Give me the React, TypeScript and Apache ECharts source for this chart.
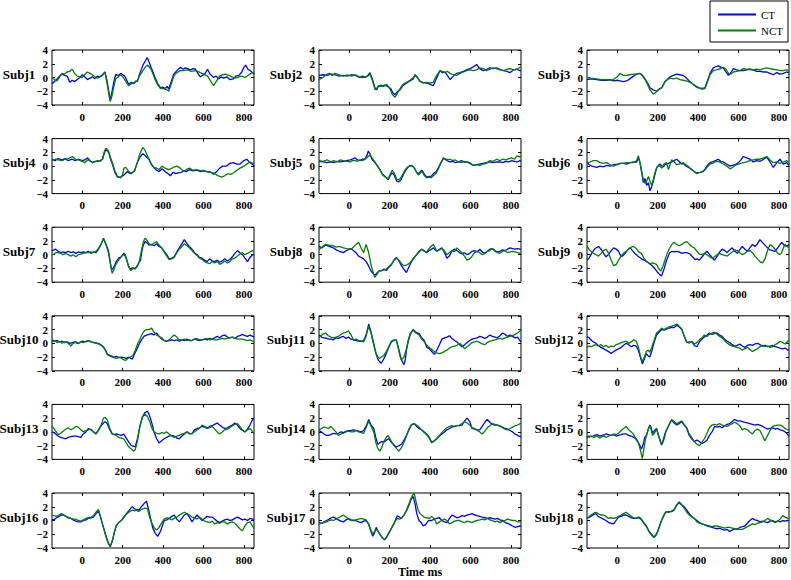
import React, { useEffect, useRef } from "react";
import * as echarts from "echarts";

const subjects = ["Subj1","Subj2","Subj3","Subj4","Subj5","Subj6","Subj7","Subj8","Subj9","Subj10","Subj11","Subj12","Subj13","Subj14","Subj15","Subj16","Subj17","Subj18"];
const timeTicks = [0, 200, 400, 600, 800];
const timeRange = [-150, 850];
const ampRange = [-4, 4];
const xTitle = "Time ms";

const ct1 = [[-150,-0.9],[-135,-0.5],[-125,-0.2],[-110,0.3],[-100,0.5],[-88,0.3],[-75,0.2],[-62,-0.7],[-50,-0.4],[-38,-0.6],[-25,-0.3],[-12,0.0],[0,0.4],[12,0.1],[25,-0.3],[38,-0.1],[50,0.1],[62,-0.2],[75,0.2],[88,0.1],[100,0.4],[112,0.8],[122,-0.4],[130,-1.8],[138,-3.3],[146,-2.2],[155,-0.8],[165,0.4],[178,0.3],[190,0.6],[200,0.4],[210,0.2],[220,-0.4],[230,-1.0],[243,-0.7],[256,-0.9],[265,-0.5],[272,-0.6],[285,0.6],[300,1.8],[312,2.4],[321,2.9],[330,2.3],[340,1.5],[350,0.8],[360,0],[372,-0.8],[387,-1.5],[398,-1.4],[410,-1.6],[420,-1.3],[428,-1.7],[440,-0.6],[453,0.5],[468,1.0],[486,1.5],[500,1.2],[510,1.4],[520,1.3],[535,1.1],[548,1.3],[560,1.2],[572,0.6],[584,0.1],[595,0.3],[608,0.6],[620,1.2],[632,0.5],[650,0.0],[662,0.2],[675,-0.2],[688,0.1],[700,-0.1],[715,0.1],[730,-0.3],[748,-0.2],[760,0.2],[775,0.3],[790,0.8],[800,1.5],[809,1.8],[820,1.2],[835,0.9],[850,0.5]];
const nct1 = [[-150,0],[-138,-0.3],[-125,-0.5],[-112,0.1],[-100,0.6],[-88,0.5],[-75,0.8],[-62,0.9],[-50,1.2],[-38,0.6],[-25,0.2],[-12,0.1],[0,0],[12,0.4],[25,0.8],[38,0.6],[50,0.4],[62,0.1],[75,-0.1],[88,0.1],[100,0.3],[112,0.8],[122,-0.8],[130,-2.2],[138,-3.5],[146,-2.8],[155,-1.5],[165,-0.2],[178,0.1],[190,0.4],[200,0.1],[210,-0.3],[220,-0.8],[230,-1.2],[243,-0.9],[256,-0.8],[265,-0.6],[272,-0.5],[285,0.3],[300,1.0],[312,1.5],[321,1.8],[330,1.6],[340,1.2],[350,0.5],[360,-0.3],[372,-1.0],[387,-1.6],[398,-1.6],[410,-1.7],[420,-1.8],[428,-2.0],[440,-1.0],[453,0.2],[468,0.7],[486,1.0],[500,1.0],[520,1.1],[540,0.9],[560,1.0],[572,0.9],[584,0.7],[600,0.5],[620,0.2],[635,-0.5],[650,-1.2],[665,-0.5],[680,0.2],[695,0.4],[710,0.5],[725,0.3],[740,0.1],[748,0],[760,-0.1],[775,0.1],[790,0.2],[805,0.0],[820,0.3],[835,0.6],[850,0.8]];

const ct2 = [[-150,0.3],[-130,0.4],[-110,0.3],[-90,0.5],[-70,0.4],[-50,0.2],[-30,0.3],[-10,0.2],[10,0.4],[30,0.3],[50,0.0],[65,0.2],[80,0.0],[92,0.3],[102,0.7],[115,-0.3],[128,-1.6],[135,-1.8],[145,-1.2],[160,-1.3],[175,-1.1],[190,-1.3],[205,-1.6],[215,-2.2],[226,-2.5],[240,-2.0],[251,-1.8],[265,-1.2],[284,-0.8],[300,-0.5],[317,-0.2],[325,0.4],[338,0.0],[350,-0.6],[365,-0.7],[383,-0.8],[400,-1.0],[416,-1.2],[430,-0.2],[449,1.0],[460,0.7],[474,0.8],[485,0.3],[499,-0.3],[515,0.2],[531,0.6],[548,0.7],[565,0.9],[580,1.1],[597,1.3],[612,1.5],[630,1.9],[645,1.3],[663,1.0],[680,1.2],[696,1.4],[712,1.3],[729,1.4],[745,1.2],[763,1.0],[780,0.9],[795,0.7],[812,1.1],[829,1.2],[845,1.0],[850,1.0]];
const nct2 = [[-150,-0.3],[-130,0.0],[-110,0.5],[-100,0.6],[-85,0.3],[-70,0.6],[-50,0.4],[-30,0.2],[-10,0.4],[10,0.2],[30,0.4],[50,0.1],[65,0.0],[80,0.1],[92,0.2],[102,0.5],[115,-0.5],[128,-1.8],[140,-1.4],[155,-1.1],[170,-1.3],[185,-1.0],[200,-1.6],[212,-2.4],[226,-2.9],[240,-2.2],[251,-1.6],[265,-1.0],[284,-0.7],[300,-0.4],[317,0.0],[325,0.4],[338,-0.1],[350,-0.5],[365,-0.8],[383,-0.7],[400,-0.8],[416,-0.7],[430,0.2],[449,1.0],[460,0.9],[474,0.7],[485,0.9],[499,0.6],[515,0.4],[531,0.3],[548,0.6],[565,0.8],[580,1.0],[597,1.1],[612,1.0],[630,1.1],[645,1.4],[663,1.3],[680,1.0],[696,1.2],[712,1.4],[729,1.3],[745,1.1],[763,1.0],[780,1.2],[795,1.3],[812,1.1],[829,1.2],[845,1.5],[850,1.5]];

const ct3 = [[-150,-0.3],[-130,-0.2],[-102,-0.3],[-80,-0.4],[-52,-0.4],[-35,-0.3],[-20,-0.5],[0,-0.4],[13,-0.5],[30,-0.6],[46,-0.5],[62,-0.2],[80,0.2],[96,0.5],[112,0.6],[125,0.3],[137,-0.2],[150,-0.8],[162,-1.5],[178,-1.8],[195,-2.0],[210,-1.6],[220,-1.5],[236,-0.6],[250,-0.2],[261,0.1],[277,0.3],[294,0.5],[310,0.4],[327,0.3],[343,-0.1],[360,-0.6],[376,-1.0],[393,-1.4],[405,-1.5],[418,-1.6],[434,-1.5],[446,-0.5],[459,0.6],[475,1.4],[490,1.6],[500,1.7],[512,1.5],[525,1.4],[538,0.8],[550,0.3],[562,0.7],[575,1.3],[591,1.1],[607,1.0],[624,1.0],[640,1.1],[657,1.2],[673,1.1],[690,0.9],[707,0.9],[723,0.8],[740,0.8],[756,0.6],[772,0.4],[790,0.7],[805,0.5],[822,0.6],[838,0.8],[850,0.7]];
const nct3 = [[-150,0.0],[-130,-0.1],[-102,-0.2],[-80,-0.3],[-52,-0.3],[-35,-0.4],[-20,-0.3],[0,0.1],[13,0.6],[30,0.3],[46,0.3],[62,0.4],[80,0.5],[96,0.5],[112,0.6],[125,0.2],[137,-0.3],[150,-1.0],[162,-1.8],[178,-2.4],[190,-2.2],[200,-1.9],[220,-1.5],[236,-0.6],[250,-0.3],[261,-0.1],[277,-0.2],[294,-0.1],[310,-0.3],[327,-0.4],[343,-0.5],[360,-0.7],[376,-1.0],[393,-1.3],[405,-1.5],[418,-1.7],[434,-1.6],[446,-0.7],[459,0.4],[475,1.0],[490,1.1],[500,1.2],[512,1.3],[525,1.5],[538,1.2],[550,0.6],[562,0.5],[575,0.8],[591,0.9],[607,1.0],[624,1.3],[640,1.2],[657,1.2],[673,1.1],[690,1.2],[707,1.1],[723,1.3],[740,1.4],[756,1.3],[772,1.2],[790,1.1],[805,1.0],[822,1.0],[838,1.1],[850,1.0]];

const ct4 = [[-150,1.0],[-135,0.8],[-120,1.1],[-100,0.9],[-85,1.1],[-70,0.8],[-50,1.0],[-35,0.8],[-20,1.0],[0,0.8],[12,0.9],[26,1.2],[40,0.7],[50,0.5],[62,0.7],[75,0.7],[88,0.8],[100,1.0],[108,1.8],[116,2.4],[125,2.2],[132,1.9],[140,1.0],[149,0.3],[160,-0.8],[174,-1.6],[190,-1.6],[200,-1.4],[210,-1.2],[222,-0.8],[232,-1.0],[240,-1.1],[250,-0.9],[260,-0.6],[272,0.5],[285,1.3],[300,1.8],[312,1.5],[330,1.0],[342,0.3],[354,-0.2],[368,-0.6],[380,-0.8],[395,-0.4],[410,-0.8],[425,-1.1],[436,-1.4],[450,-0.9],[462,-1.1],[475,-1.0],[490,-0.9],[502,-0.7],[515,-0.8],[530,-0.5],[548,-0.7],[568,-0.6],[585,-0.8],[600,-0.7],[615,-0.8],[630,-0.8],[642,-1.0],[650,-1.2],[665,-0.8],[680,-0.3],[695,0.0],[715,0.0],[730,0.4],[748,0.5],[765,0.3],[781,0.3],[800,0.8],[814,1.0],[830,0.5],[845,0.2],[850,0.0]];
const nct4 = [[-150,0.8],[-135,1.0],[-120,0.9],[-100,0.8],[-85,1.0],[-70,1.1],[-55,1.3],[-48,1.4],[-35,1.0],[-20,0.9],[0,0.7],[12,0.5],[26,0.9],[40,0.8],[50,0.5],[62,0.6],[75,0.8],[88,0.7],[100,1.0],[108,2.0],[116,2.6],[125,2.4],[132,2.0],[140,1.2],[149,0.5],[160,-0.6],[174,-1.5],[190,-1.7],[200,-1.2],[206,-0.3],[215,-0.2],[225,-0.6],[235,-0.9],[245,-1.0],[258,-0.7],[272,0.5],[285,1.8],[296,2.5],[302,2.7],[312,2.2],[330,1.0],[342,0.2],[354,-0.2],[368,-0.3],[380,-0.5],[395,0.0],[410,-0.3],[425,-0.5],[436,-0.4],[450,-0.2],[469,0.0],[485,-0.3],[502,-0.8],[515,-0.5],[530,-0.3],[548,-0.6],[568,-0.5],[585,-0.7],[600,-0.6],[615,-0.8],[630,-0.9],[650,-1.0],[665,-1.3],[680,-1.5],[691,-1.6],[705,-1.4],[720,-1.1],[735,-1.2],[748,-1.0],[765,-0.6],[781,-0.3],[800,0.0],[815,0.3],[830,0.6],[845,0.4],[850,0.3]];

const ct5 = [[-150,0.7],[-130,0.6],[-110,0.5],[-90,0.6],[-79,0.5],[-60,0.7],[-46,0.6],[-30,0.7],[-13,0.8],[5,0.9],[15,1.0],[28,1.2],[40,0.9],[53,0.8],[65,1.0],[78,1.0],[88,1.6],[94,2.2],[102,1.8],[112,1.0],[127,0.5],[140,0.0],[152,-0.5],[165,-1.2],[177,-1.5],[193,-2.0],[202,-1.4],[212,-1.0],[222,-1.3],[235,-2.2],[245,-2.3],[255,-2.0],[268,-1.2],[280,-0.6],[290,-0.2],[300,0.1],[312,0.0],[322,-0.3],[333,-0.9],[342,-1.1],[352,-0.8],[360,-0.6],[372,-1.2],[383,-1.6],[395,-1.5],[405,-1.5],[420,-1.0],[430,-0.8],[441,-0.2],[455,0.6],[466,1.2],[480,0.9],[490,0.7],[499,0.6],[512,0.7],[525,0.5],[540,0.6],[555,0.8],[570,0.6],[588,0.6],[600,0.4],[614,0.1],[628,0.2],[645,0.3],[662,0.4],[680,0.5],[696,0.6],[712,0.5],[730,0.6],[745,0.6],[760,0.5],[775,0.7],[790,0.6],[804,0.8],[818,0.7],[830,0.6],[845,0.8],[850,0.7]];
const nct5 = [[-150,0.8],[-130,0.7],[-110,0.9],[-90,0.6],[-79,0.8],[-60,0.6],[-46,0.9],[-30,0.8],[-13,0.7],[5,0.6],[15,0.8],[28,0.8],[40,0.7],[53,0.9],[65,0.8],[78,1.0],[90,1.3],[102,1.6],[112,1.2],[127,0.6],[140,0.0],[152,-0.6],[165,-1.3],[177,-1.6],[193,-1.8],[202,-1.2],[212,-0.6],[222,-1.0],[235,-1.9],[245,-2.0],[255,-1.7],[268,-1.0],[280,-0.4],[290,-0.1],[300,0.0],[312,0.1],[322,-0.3],[333,-0.9],[342,-1.3],[352,-1.0],[360,-0.8],[372,-1.4],[383,-1.7],[395,-1.6],[405,-1.7],[420,-1.3],[430,-1.0],[441,-0.4],[455,0.5],[466,1.1],[480,1.0],[490,0.9],[499,1.0],[512,0.8],[525,0.9],[540,0.6],[555,0.5],[570,0.7],[588,0.5],[600,0.3],[614,0.1],[628,0.2],[645,0.1],[662,0.3],[680,0.4],[696,0.8],[712,0.7],[730,1.0],[745,0.8],[760,1.0],[775,0.9],[790,1.1],[804,1.2],[818,1.0],[830,1.5],[845,1.3],[850,1.5]];

const ct6 = [[-150,0.6],[-140,0.2],[-125,0.0],[-102,-0.2],[-85,0.0],[-70,-0.1],[-52,0.1],[-35,0.0],[-20,0.2],[0,0.3],[15,0.4],[30,0.4],[46,0.3],[63,0.5],[80,0.6],[96,0.6],[104,1.2],[112,0.5],[121,-1.0],[129,-2.4],[137,-1.8],[145,-2.8],[154,-2.4],[162,-3.6],[170,-3.0],[178,-2.2],[188,-1.0],[195,-0.3],[203,0.1],[211,0.3],[220,0.0],[228,-0.1],[236,0.2],[244,0.3],[253,0.4],[261,0.5],[269,0.6],[280,0.8],[294,1.0],[305,0.7],[319,0.3],[327,0.4],[340,0.0],[353,-0.2],[368,-0.5],[380,-0.8],[393,-1.0],[410,-0.9],[426,-0.8],[435,-0.4],[443,0.0],[459,0.5],[470,0.6],[485,0.8],[500,1.0],[512,0.7],[525,0.6],[541,0.3],[558,0.0],[570,0.1],[583,0.2],[600,0.5],[612,0.9],[624,1.4],[640,1.2],[657,1.0],[673,0.6],[690,0.8],[707,0.7],[724,1.0],[740,1.3],[756,0.6],[772,-0.2],[790,0.5],[805,1.0],[822,0.3],[838,0.5],[850,0.1]];
const nct6 = [[-150,0.4],[-135,0.6],[-120,0.8],[-102,0.8],[-85,0.5],[-70,0.4],[-52,0.5],[-35,0.2],[-20,0.0],[0,0.2],[15,0.4],[30,0.4],[46,0.5],[63,0.5],[80,0.5],[96,0.8],[104,1.5],[112,0.6],[121,-0.8],[129,-2.0],[137,-2.5],[145,-2.2],[154,-1.5],[162,-2.2],[170,-2.8],[178,-2.0],[188,-0.8],[195,-0.2],[203,0.0],[211,0.0],[220,-0.3],[228,0.2],[236,0.4],[244,0.5],[253,-0.5],[261,0.2],[269,0.9],[280,0.7],[294,0.2],[305,0.3],[319,0.4],[327,0.5],[340,0.2],[353,-0.1],[368,-0.5],[380,-0.8],[393,-1.1],[410,-0.9],[426,-0.7],[435,-0.5],[443,-0.2],[459,0.3],[470,0.4],[485,0.6],[500,0.7],[512,0.5],[525,0.3],[541,0.0],[558,-0.4],[570,-0.2],[583,0.1],[600,0.3],[612,0.4],[624,0.5],[640,0.6],[657,0.8],[673,0.9],[690,1.0],[707,1.0],[724,1.2],[740,1.4],[756,0.9],[772,0.5],[790,0.6],[805,0.4],[822,0.6],[838,0.8],[850,0.5]];

const ct7 = [[-150,0.6],[-140,0.7],[-132,0.8],[-120,0.5],[-107,0.3],[-95,0.4],[-82,0.3],[-70,0.5],[-57,0.3],[-45,0.4],[-32,0.2],[-20,0.4],[-7,0.3],[5,0.4],[18,0.3],[30,0.5],[43,0.2],[55,0.4],[68,0.3],[80,0.8],[93,1.5],[105,2.4],[118,1.5],[130,0.5],[138,-1.0],[145,-2.2],[152,-2.0],[160,-1.6],[168,-1.0],[180,-0.5],[193,-0.3],[205,0.2],[212,0.0],[218,-0.5],[228,-1.6],[238,-2.1],[248,-1.9],[258,-2.0],[268,-1.8],[278,-1.3],[288,-0.8],[295,0.5],[300,1.2],[310,1.9],[318,1.8],[330,1.4],[343,1.5],[355,1.3],[368,1.6],[380,1.2],[393,1.0],[405,0.5],[418,0.0],[430,-0.6],[443,-0.5],[455,-0.3],[468,0.4],[480,1.0],[493,1.6],[505,2.2],[518,1.6],[530,1.2],[543,0.8],[555,0.3],[568,0.0],[580,-0.4],[593,-0.5],[605,-0.8],[618,-1.0],[630,-0.6],[643,-0.9],[655,-1.0],[668,-0.8],[680,-1.1],[693,-0.9],[705,-0.6],[718,-0.9],[730,-0.7],[743,-0.3],[755,0.2],[768,0.6],[780,0.3],[793,0.0],[805,-0.5],[818,-1.0],[830,-0.4],[843,0.0],[850,0.0]];
const nct7 = [[-150,0.0],[-140,0.1],[-132,0.3],[-120,0.3],[-107,0.2],[-95,0.0],[-82,0.2],[-70,0.0],[-57,-0.2],[-45,0.0],[-32,-0.3],[-20,0.0],[-7,0.1],[5,0.2],[18,0.3],[30,0.3],[43,0.4],[55,0.3],[68,0.5],[80,0.9],[93,1.6],[105,2.3],[118,1.4],[130,0.2],[138,-1.2],[148,-2.7],[155,-2.3],[163,-1.6],[175,-1.0],[188,-0.5],[198,-0.1],[205,0.0],[212,-0.2],[220,-0.8],[230,-1.8],[240,-2.3],[252,-2.0],[262,-2.1],[272,-1.7],[282,-1.0],[292,0.5],[302,1.8],[310,2.4],[318,2.2],[330,1.6],[343,1.4],[355,1.7],[368,1.9],[380,1.4],[393,1.0],[405,0.4],[418,-0.2],[430,-0.7],[443,-0.6],[455,-0.4],[468,0.3],[480,0.8],[493,1.2],[505,1.6],[518,1.3],[530,1.0],[543,0.6],[555,0.2],[568,-0.1],[580,-0.5],[593,-0.7],[605,-1.0],[618,-1.2],[630,-1.3],[643,-1.0],[655,-1.2],[668,-1.0],[680,-1.4],[693,-1.2],[705,-0.9],[718,-1.2],[730,-1.0],[743,-0.6],[755,-0.5],[768,-0.2],[780,0.1],[793,0.3],[805,0.0],[818,0.2],[830,0.4],[843,0.6],[850,0.5]];

const ct8 = [[-150,1.2],[-135,1.0],[-117,1.4],[-100,1.2],[-79,1.0],[-65,0.7],[-50,0.5],[-29,0.3],[-15,0.6],[0,0.8],[8,0.9],[20,0.6],[33,0.3],[46,-0.2],[58,-0.4],[71,-0.6],[83,-1.0],[95,-1.6],[108,-2.4],[120,-2.8],[126,-3.0],[136,-2.7],[146,-2.4],[160,-2.3],[172,-2.1],[183,-2.3],[196,-1.8],[208,-1.5],[220,-0.8],[233,-0.4],[246,-0.9],[258,-1.6],[270,-2.1],[283,-2.6],[295,-1.8],[308,-1.0],[320,-0.5],[333,0.0],[345,0.4],[358,0.8],[370,0.6],[383,0.3],[395,0.6],[408,0.8],[416,1.0],[425,0.7],[433,0.5],[446,0.8],[458,1.0],[470,0.4],[483,-0.5],[495,-0.2],[508,0.5],[520,0.8],[533,0.6],[546,0.3],[558,0.1],[570,0.3],[583,0.0],[596,0.2],[608,0.5],[620,0.6],[633,0.4],[646,0.8],[658,0.4],[671,0.2],[683,0.5],[696,0.8],[708,0.9],[721,0.6],[733,0.4],[746,0.5],[758,0.7],[771,0.6],[783,0.8],[796,1.0],[808,0.9],[821,0.8],[833,0.9],[845,0.8],[850,0.8]];
const nct8 = [[-150,0.8],[-135,1.1],[-117,1.5],[-100,1.4],[-79,1.3],[-65,1.1],[-50,1.2],[-29,1.0],[-15,0.9],[0,0.8],[8,0.8],[20,1.1],[33,1.5],[46,1.8],[58,1.0],[71,0.3],[83,1.5],[95,0.4],[108,-1.5],[118,-2.6],[126,-3.3],[136,-2.9],[146,-2.4],[160,-2.3],[172,-2.2],[183,-2.1],[196,-1.7],[208,-1.4],[220,-0.9],[233,-0.5],[246,-0.8],[258,-1.3],[270,-1.6],[283,-1.5],[295,-1.3],[308,-0.9],[320,-0.4],[333,0.0],[345,0.5],[358,0.8],[370,0.5],[383,0.4],[395,0.9],[408,1.3],[416,1.5],[425,1.0],[433,0.5],[446,0.7],[458,0.9],[470,0.6],[483,0.0],[495,0.3],[508,0.6],[520,0.4],[533,1.0],[546,0.6],[558,0.3],[570,-0.2],[583,-0.8],[596,-0.6],[608,-0.2],[620,0.3],[633,0.5],[646,0.3],[658,0.0],[671,0.2],[683,0.5],[696,0.6],[708,0.9],[721,0.5],[733,0.3],[746,0.2],[758,0.5],[771,0.6],[783,0.3],[796,0.4],[808,0.5],[821,0.4],[833,0.3],[845,0.2],[850,0.2]];

const ct9 = [[-150,-0.8],[-140,-0.5],[-125,0.3],[-110,0.9],[-93,1.2],[-80,0.8],[-68,0.2],[-56,-0.3],[-45,0.0],[-30,0.6],[-18,1.0],[-5,0.8],[6,0.5],[19,-0.3],[30,-0.1],[44,0.4],[55,0.8],[64,1.0],[75,0.6],[90,0.1],[106,-0.3],[120,-0.6],[140,-0.9],[155,-1.2],[169,-1.5],[185,-2.0],[200,-2.6],[210,-2.9],[219,-3.1],[230,-2.2],[244,-0.8],[258,0.2],[270,0.5],[281,0.4],[294,0.5],[306,0.4],[320,0.2],[333,0.3],[344,0.3],[360,0.1],[372,-0.3],[385,-0.7],[395,-0.6],[406,-0.8],[420,-0.3],[433,0.2],[444,0.5],[457,0.0],[469,-0.4],[481,-0.8],[495,-0.2],[507,0.4],[519,0.8],[532,0.6],[544,0.3],[556,0.7],[569,1.0],[582,0.5],[594,0.2],[606,0.7],[619,1.2],[632,0.8],[644,0.5],[656,1.0],[669,1.5],[682,1.2],[694,1.6],[706,2.2],[718,1.8],[731,1.4],[744,1.0],[756,0.7],[769,0.6],[781,0.5],[794,1.0],[806,1.5],[814,1.8],[825,1.4],[838,1.2],[850,1.5]];
const nct9 = [[-150,1.2],[-140,0.8],[-131,0.5],[-118,0.2],[-105,0.0],[-93,-0.2],[-80,0.2],[-68,0.6],[-56,0.8],[-45,0.3],[-30,-0.8],[-18,-1.6],[-5,-1.4],[6,-0.8],[19,-0.2],[30,0.2],[44,0.5],[55,0.8],[68,1.1],[81,1.2],[94,0.9],[106,0.4],[119,0.2],[132,-0.5],[145,-1.0],[160,-1.3],[175,-1.2],[194,-1.4],[205,-2.0],[215,-2.4],[228,-1.5],[244,0.0],[258,0.9],[270,1.5],[281,1.8],[294,1.5],[306,1.3],[320,1.5],[333,1.8],[344,1.9],[357,1.5],[369,1.2],[381,1.0],[394,0.5],[406,0.1],[419,0.0],[432,0.2],[444,0.0],[457,-0.3],[469,-0.5],[481,-0.3],[494,0.0],[507,0.2],[519,0.0],[532,-0.1],[544,-0.2],[556,0.1],[569,0.4],[582,0.7],[594,0.6],[606,0.3],[619,0.0],[632,0.2],[644,0.5],[656,0.6],[669,0.3],[682,-0.2],[694,-0.6],[706,-1.0],[719,-1.2],[731,-0.6],[744,0.6],[756,1.5],[769,1.2],[781,0.8],[794,0.2],[806,0.0],[814,0.3],[822,1.0],[831,1.5],[840,1.2],[850,1.0]];

const ct10 = [[-150,0.5],[-138,0.3],[-125,0.4],[-112,0.2],[-100,0.3],[-88,0.1],[-75,0.2],[-62,0.0],[-50,0.1],[-38,0.2],[-25,0.0],[-12,0.1],[0,0.3],[15,0.2],[30,0.4],[45,0.2],[60,0.1],[80,0.0],[95,-0.3],[105,-0.6],[115,-1.0],[125,-1.6],[140,-1.8],[155,-2.0],[170,-1.9],[182,-2.1],[193,-2.0],[205,-2.1],[218,-2.2],[230,-2.0],[240,-2.2],[248,-2.3],[258,-1.6],[268,-1.0],[280,-0.2],[293,0.5],[305,1.0],[318,1.2],[330,1.3],[343,1.4],[355,1.2],[368,1.5],[380,1.0],[393,0.6],[405,0.4],[418,0.3],[430,0.4],[443,0.5],[455,0.4],[468,0.5],[480,0.3],[493,0.5],[505,0.4],[518,0.6],[530,0.4],[543,0.4],[555,0.6],[568,0.5],[580,0.4],[593,0.5],[605,0.6],[618,0.5],[630,0.7],[643,0.6],[655,0.8],[668,1.0],[680,0.8],[693,1.1],[705,1.2],[718,0.9],[730,0.8],[743,0.9],[755,0.7],[768,1.0],[780,1.1],[793,1.3],[805,1.1],[818,1.0],[830,1.2],[843,1.0],[850,0.9]];
const nct10 = [[-150,0.2],[-138,0.4],[-125,0.1],[-112,0.3],[-100,0.0],[-88,0.2],[-75,0.1],[-62,-0.2],[-57,-0.4],[-45,0.0],[-32,0.2],[-20,0.0],[-7,0.2],[5,0.1],[18,0.3],[30,0.4],[43,0.2],[55,0.1],[68,0.0],[80,-0.1],[95,-0.3],[105,-0.5],[115,-1.1],[125,-1.7],[140,-1.9],[155,-2.1],[170,-2.2],[185,-2.0],[200,-2.3],[213,-2.5],[225,-2.2],[238,-2.0],[250,-1.8],[262,-1.0],[275,0.0],[288,0.8],[300,1.5],[310,1.9],[318,2.0],[330,2.0],[343,2.2],[355,1.6],[368,1.2],[380,1.0],[393,0.8],[405,0.4],[418,0.3],[430,0.5],[443,0.9],[455,1.2],[468,0.9],[480,0.5],[493,0.5],[505,0.6],[518,0.4],[530,0.5],[543,0.4],[555,0.6],[568,0.7],[580,0.5],[593,0.5],[605,0.6],[618,0.7],[630,0.5],[643,0.6],[655,0.5],[668,0.5],[680,0.6],[693,0.7],[705,0.6],[718,0.7],[730,0.8],[743,0.9],[755,0.7],[768,0.6],[780,0.6],[793,0.6],[805,0.5],[818,0.4],[830,0.5],[843,0.3],[850,0.3]];

const ct11 = [[-150,1.2],[-138,0.9],[-125,0.8],[-112,0.7],[-100,0.6],[-90,0.6],[-79,0.5],[-66,0.8],[-54,0.7],[-41,0.9],[-29,1.0],[-16,0.7],[-4,0.9],[9,0.6],[21,0.5],[34,0.4],[46,0.3],[58,0.3],[71,0.4],[83,1.2],[96,2.8],[108,1.6],[121,0.0],[131,-1.4],[141,-2.3],[150,-2.7],[158,-2.9],[170,-2.3],[183,-1.5],[195,-0.6],[208,0.2],[220,0.4],[233,0.5],[240,-0.3],[246,-1.0],[258,-2.4],[265,-2.8],[271,-3.1],[277,-2.4],[283,-1.0],[292,0.3],[301,1.2],[309,1.7],[316,2.0],[330,1.6],[346,1.4],[358,0.8],[371,0.4],[384,-0.6],[396,-0.8],[408,-1.2],[421,-1.6],[433,-1.0],[446,-0.2],[458,0.6],[471,0.8],[483,0.9],[496,1.1],[508,0.7],[521,0.4],[533,0.2],[546,-0.2],[558,-0.5],[571,-0.2],[583,0.1],[596,0.4],[608,0.6],[621,0.7],[633,0.8],[646,1.0],[658,0.9],[671,0.7],[683,0.9],[696,1.2],[708,1.0],[721,0.9],[733,0.8],[746,1.1],[758,1.5],[771,1.3],[783,1.0],[796,1.2],[808,1.0],[821,0.8],[833,0.9],[846,0.3],[850,0.3]];
const nct11 = [[-150,0.8],[-138,1.2],[-125,1.4],[-117,1.5],[-104,1.1],[-91,0.9],[-79,0.8],[-66,0.9],[-54,1.0],[-41,1.3],[-29,1.5],[-16,1.6],[-4,1.8],[9,1.2],[21,0.5],[34,0.6],[46,0.4],[58,0.3],[71,0.2],[83,1.0],[96,2.5],[108,1.4],[121,-0.3],[131,-1.3],[141,-2.0],[150,-2.2],[158,-2.0],[170,-1.8],[183,-1.2],[195,-0.5],[208,0.3],[220,0.5],[233,0.4],[240,-0.4],[246,-1.2],[252,-2.0],[258,-2.4],[265,-2.2],[271,-2.0],[283,-0.8],[292,0.5],[301,1.4],[309,1.7],[316,1.9],[330,1.5],[346,1.2],[358,0.6],[371,0.2],[384,-0.3],[396,-0.6],[408,-0.9],[421,-1.2],[433,-1.4],[446,-1.5],[458,-1.4],[471,-1.2],[483,-1.0],[496,-0.7],[508,-0.5],[521,-0.4],[533,-0.3],[546,0.0],[558,-0.3],[571,-0.8],[583,-0.5],[596,-0.2],[608,0.1],[621,0.2],[633,0.3],[646,0.1],[658,-0.1],[671,-0.2],[683,0.1],[696,0.3],[708,0.4],[721,0.5],[733,0.6],[746,0.7],[758,0.6],[771,0.8],[783,0.9],[796,1.0],[808,1.1],[821,1.3],[833,1.5],[846,1.8],[850,2.0]];

const ct12 = [[-150,1.0],[-140,0.8],[-128,0.4],[-118,0.2],[-106,0.0],[-95,-0.3],[-81,-0.6],[-68,-0.8],[-56,-1.0],[-43,-1.2],[-31,-1.5],[-18,-1.2],[-6,-1.0],[6,-0.8],[19,-0.6],[31,-0.3],[44,0.0],[56,-0.2],[69,-0.5],[81,-0.3],[94,-0.4],[104,-1.0],[114,-2.0],[124,-3.0],[134,-2.3],[144,-1.5],[152,-1.8],[161,-2.0],[170,-1.2],[181,0.0],[194,1.2],[206,1.6],[219,2.0],[231,1.9],[244,2.1],[256,2.2],[269,2.3],[281,2.3],[294,2.6],[306,2.4],[319,2.0],[332,1.0],[344,0.1],[356,0.2],[369,0.2],[381,-0.3],[394,-0.5],[406,0.2],[419,0.6],[431,0.9],[444,1.2],[456,1.5],[469,1.3],[481,1.4],[494,1.5],[506,1.2],[519,1.0],[531,0.6],[544,0.3],[556,0.1],[569,-0.2],[581,-0.4],[594,-0.3],[606,-0.1],[619,-0.4],[631,-0.6],[644,-0.3],[656,-0.2],[669,-0.3],[681,-0.1],[694,0.0],[706,-0.2],[719,-0.4],[731,-0.3],[744,-0.5],[756,-0.4],[769,-0.3],[781,-0.5],[794,-0.6],[806,-0.7],[819,-0.8],[831,-0.7],[844,-1.0],[850,-0.9]];
const nct12 = [[-150,-0.6],[-140,-0.4],[-128,-0.5],[-118,-0.3],[-106,-0.2],[-93,-0.4],[-81,-0.2],[-68,-0.5],[-56,-0.3],[-43,-0.6],[-31,-0.4],[-18,-0.5],[-6,-0.2],[6,-0.1],[19,0.1],[31,0.2],[44,0.3],[56,0.0],[69,0.2],[81,0.5],[94,0.3],[104,-0.5],[114,-1.8],[124,-2.7],[134,-2.0],[144,-1.2],[152,-1.0],[161,-1.3],[170,-0.6],[181,0.3],[194,1.5],[206,1.8],[219,2.2],[231,2.0],[244,2.2],[256,2.4],[269,2.5],[281,2.6],[294,2.8],[306,2.5],[319,2.1],[332,1.0],[344,0.2],[356,0.0],[369,0.3],[381,-0.1],[394,0.1],[406,0.5],[419,0.8],[431,1.2],[444,1.0],[456,1.3],[469,1.5],[481,1.6],[494,1.3],[506,1.0],[519,0.8],[531,0.4],[544,0.0],[556,-0.2],[569,-0.4],[581,-0.5],[594,-0.6],[606,-0.7],[619,-1.0],[631,-0.8],[644,-0.6],[656,-0.9],[669,-1.2],[681,-1.0],[694,-0.8],[706,-0.5],[719,-0.3],[731,-0.5],[744,-0.4],[756,-0.6],[769,-0.5],[781,-0.2],[794,0.0],[806,0.3],[819,0.1],[831,-0.1],[844,0.3],[850,0.5]];

const ct13 = [[-150,0.0],[-140,-0.1],[-132,-0.3],[-120,-0.6],[-107,-0.8],[-95,-0.9],[-82,-1.0],[-70,-0.8],[-57,-0.7],[-45,-0.6],[-32,-0.6],[-20,-0.7],[-7,-0.8],[5,-0.3],[18,0.0],[30,0.5],[43,0.3],[55,0.0],[68,-0.3],[80,0.3],[93,0.9],[105,1.3],[113,1.5],[123,1.2],[135,0.4],[147,-0.3],[158,-0.4],[168,-0.3],[180,-0.4],[193,-0.5],[205,-0.3],[215,-0.8],[230,-1.5],[243,-2.0],[255,-2.1],[262,-2.2],[273,-1.0],[285,0.8],[298,2.2],[310,2.8],[323,3.0],[335,2.2],[345,1.2],[355,0.0],[368,-1.0],[380,-1.6],[393,-1.3],[405,-1.0],[418,-0.8],[430,-0.6],[443,-0.5],[455,-0.6],[468,-0.9],[480,-1.0],[493,-0.6],[505,-0.3],[518,0.0],[530,-0.2],[543,-0.3],[555,0.3],[568,0.5],[580,0.6],[593,0.8],[605,0.7],[618,0.5],[630,0.8],[643,0.9],[655,1.1],[668,1.3],[680,1.0],[693,0.7],[705,0.5],[718,0.6],[730,0.8],[743,1.0],[755,1.3],[768,1.0],[780,0.5],[793,0.2],[805,0.0],[818,0.4],[830,1.0],[843,1.8],[850,2.0]];
const nct13 = [[-150,0.8],[-140,0.5],[-132,0.1],[-120,-0.4],[-107,-0.2],[-95,0.1],[-82,0.4],[-70,0.6],[-57,0.3],[-45,0.5],[-32,0.8],[-20,0.7],[-7,0.3],[5,0.0],[18,0.2],[30,0.3],[43,0.4],[55,0.0],[68,-0.2],[80,0.2],[93,1.0],[105,2.0],[113,2.1],[123,1.8],[135,0.6],[147,-0.2],[158,-0.4],[168,-0.5],[180,-0.8],[193,-0.9],[205,-1.0],[215,-1.5],[230,-2.2],[243,-2.5],[255,-2.8],[262,-2.6],[273,-1.3],[285,0.8],[298,2.2],[310,2.6],[323,2.2],[335,1.4],[345,0.5],[355,0.0],[368,-0.2],[380,-0.3],[393,-0.1],[405,-0.2],[418,0.0],[430,-0.3],[443,-0.6],[455,-0.8],[468,-0.6],[480,-0.5],[493,-0.3],[505,-0.2],[518,0.0],[530,-0.3],[543,-0.2],[555,0.0],[568,0.3],[580,0.5],[593,1.0],[605,0.8],[618,0.6],[630,0.6],[643,0.8],[655,0.4],[668,0.0],[680,-0.3],[693,0.0],[705,0.3],[718,0.4],[730,0.6],[743,0.9],[755,1.1],[768,1.2],[780,0.8],[793,0.3],[805,0.0],[818,0.3],[830,0.5],[843,0.0],[850,-0.3]];

const ct14 = [[-150,0.2],[-138,0.0],[-125,-0.3],[-113,-0.5],[-104,-0.5],[-92,-0.4],[-79,-0.2],[-66,-0.3],[-54,-0.2],[-41,0.0],[-29,-0.1],[-16,0.1],[-4,0.2],[9,0.2],[21,0.3],[34,0.2],[46,0.1],[59,0.0],[71,0.2],[83,0.8],[96,1.8],[108,1.0],[121,0.5],[131,-0.8],[141,-1.8],[150,-1.6],[160,-1.4],[171,-1.5],[183,-1.2],[195,-1.0],[208,-1.5],[221,-1.9],[233,-2.2],[246,-2.0],[258,-1.8],[271,-1.2],[283,-0.5],[296,0.4],[308,1.0],[321,1.2],[333,0.8],[346,0.5],[358,0.3],[371,0.0],[383,-0.3],[396,-0.8],[408,-1.5],[421,-1.3],[433,-1.0],[446,-0.6],[458,-0.3],[471,0.0],[483,0.3],[496,0.5],[508,0.7],[521,0.8],[533,0.9],[546,0.9],[558,1.0],[571,1.6],[583,2.0],[596,1.5],[608,0.5],[621,0.4],[633,0.3],[646,0.3],[658,0.8],[671,1.4],[683,1.8],[696,1.4],[708,1.1],[721,1.0],[733,1.0],[746,0.8],[758,0.7],[771,0.5],[783,0.4],[796,0.2],[808,0.0],[821,-0.3],[833,-0.5],[846,-0.7],[850,-0.7]];
const nct14 = [[-150,0.3],[-138,0.5],[-125,0.7],[-113,0.6],[-100,0.5],[-92,0.8],[-79,0.4],[-66,0.0],[-54,-0.5],[-41,-0.3],[-29,-0.2],[-16,0.0],[-4,0.1],[9,0.0],[21,0.0],[34,0.2],[46,0.0],[59,-0.1],[71,-0.2],[83,0.6],[96,1.6],[108,0.8],[121,0.0],[131,-1.5],[141,-2.4],[151,-2.8],[160,-2.3],[171,-1.4],[183,-0.8],[191,-0.5],[200,-0.9],[210,-1.5],[221,-2.0],[233,-2.4],[246,-2.8],[258,-2.3],[271,-1.5],[283,-0.6],[296,0.4],[308,1.1],[321,1.2],[333,1.0],[346,0.7],[358,0.3],[371,-0.1],[383,-0.4],[396,-0.9],[408,-1.6],[421,-1.3],[433,-0.9],[446,-0.5],[458,-0.1],[471,0.3],[483,0.6],[496,0.8],[508,0.9],[521,0.8],[533,0.9],[546,1.0],[558,1.2],[571,1.5],[583,1.3],[596,1.0],[608,0.6],[621,0.5],[633,0.2],[646,0.0],[658,-0.3],[671,0.1],[683,0.6],[696,0.9],[708,1.2],[721,1.1],[733,1.0],[746,0.9],[758,0.6],[771,0.4],[783,0.3],[796,0.5],[808,0.7],[821,0.9],[833,1.0],[846,1.2],[850,1.2]];

const ct15 = [[-150,-0.8],[-140,-0.6],[-125,-0.7],[-113,-0.5],[-100,-0.4],[-88,-0.6],[-75,-0.5],[-63,-0.4],[-56,-0.3],[-44,-0.4],[-31,-0.5],[-19,-0.4],[-6,-0.6],[6,-0.5],[19,-0.4],[31,-0.3],[44,-0.3],[56,-0.5],[69,-0.6],[81,-0.8],[94,-1.0],[105,-1.6],[115,-2.2],[120,-2.5],[128,-1.8],[136,-0.8],[144,-0.5],[152,0.3],[161,1.0],[168,0.6],[174,-0.2],[185,0.2],[194,0.5],[204,-0.5],[214,-1.4],[219,-1.9],[229,-1.0],[239,0.0],[248,0.5],[256,1.0],[262,1.4],[269,1.7],[282,1.3],[294,1.0],[306,1.2],[319,1.5],[331,1.0],[344,0.5],[356,-0.5],[368,-1.0],[381,-1.4],[394,-1.2],[406,-1.4],[418,-1.7],[431,-1.5],[444,-1.2],[456,-0.5],[469,0.0],[481,0.8],[494,0.7],[506,0.8],[519,0.6],[531,0.9],[544,1.1],[556,1.2],[569,1.5],[581,1.8],[594,1.6],[606,1.6],[619,1.5],[631,1.4],[644,1.3],[656,1.2],[669,1.1],[681,1.0],[694,1.1],[706,1.0],[719,0.8],[731,0.6],[744,0.4],[756,0.5],[769,0.6],[781,0.4],[794,0.5],[806,0.3],[819,0.2],[831,0.0],[844,-0.4],[850,-0.6]];
const nct15 = [[-150,-0.5],[-140,-0.8],[-128,-0.6],[-115,-0.8],[-100,-0.6],[-88,-0.9],[-75,-0.7],[-63,-0.6],[-56,-0.8],[-44,-0.6],[-31,-0.5],[-19,-0.3],[-6,-0.4],[6,-0.2],[19,0.2],[31,0.5],[44,0.8],[56,0.3],[69,0.0],[81,-0.4],[94,-1.2],[105,-1.6],[114,-2.6],[124,-3.9],[132,-2.4],[140,-1.0],[148,-0.2],[156,0.6],[163,0.9],[168,0.3],[174,-0.5],[184,-0.2],[194,0.5],[204,-0.5],[214,-1.5],[222,-1.8],[232,-1.0],[242,0.2],[252,0.8],[260,1.3],[269,1.8],[282,1.5],[294,1.2],[306,1.4],[319,1.6],[331,1.1],[344,0.6],[356,-0.3],[368,-0.8],[381,-1.4],[394,-1.8],[406,-2.0],[418,-1.6],[431,-1.0],[444,-0.2],[456,0.6],[469,1.0],[481,1.1],[494,1.0],[506,1.2],[519,1.0],[531,0.9],[544,0.8],[556,1.0],[569,1.2],[581,1.4],[594,1.2],[606,0.9],[619,0.3],[631,0.5],[644,0.3],[656,0.0],[669,-0.3],[681,0.2],[694,0.4],[706,0.2],[719,-0.6],[731,-1.3],[744,-0.5],[756,0.2],[769,0.8],[781,0.9],[794,1.0],[806,1.0],[819,0.8],[831,0.5],[844,0.3],[850,0.3]];

const ct16 = [[-150,0.2],[-140,0.1],[-128,0.4],[-115,0.6],[-105,0.8],[-95,0.8],[-82,0.6],[-70,0.4],[-57,0.3],[-45,0.1],[-32,-0.1],[-20,-0.2],[-7,-0.2],[5,0.0],[18,0.1],[30,0.3],[43,0.4],[55,0.5],[68,1.0],[80,1.4],[90,0.5],[100,-0.5],[110,-1.5],[120,-2.5],[130,-3.3],[138,-3.8],[148,-3.1],[158,-1.8],[168,-0.8],[180,-0.3],[193,0.0],[205,0.4],[218,1.0],[230,1.4],[240,1.8],[248,2.0],[258,1.7],[268,1.6],[280,1.5],[292,2.0],[310,2.6],[318,2.8],[328,1.6],[338,0.3],[348,-1.0],[360,-1.8],[373,-2.3],[388,-1.5],[398,-0.6],[405,0.0],[418,0.1],[430,0.3],[443,0.6],[455,0.8],[468,0.2],[480,-0.2],[493,0.3],[505,0.8],[518,1.0],[530,0.5],[543,-0.2],[555,0.3],[568,0.8],[580,0.4],[593,0.0],[605,0.3],[618,0.6],[630,0.5],[643,0.5],[655,0.2],[668,-0.1],[680,-0.3],[693,-0.1],[705,0.1],[718,0.2],[730,0.0],[743,0.1],[755,0.3],[768,0.5],[780,0.3],[793,0.1],[805,0.2],[818,0.0],[830,0.3],[843,0.2],[850,0.1]];
const nct16 = [[-150,0.8],[-140,0.7],[-128,0.6],[-115,0.8],[-105,1.0],[-95,0.9],[-82,0.6],[-70,0.5],[-57,0.3],[-45,0.2],[-32,0.2],[-20,0.0],[-7,-0.1],[5,0.1],[18,0.3],[30,0.4],[43,0.5],[55,0.7],[68,1.2],[80,1.6],[90,0.6],[100,-0.6],[110,-1.6],[120,-2.7],[130,-3.4],[138,-3.7],[148,-3.0],[158,-1.8],[168,-0.7],[180,-0.3],[193,0.0],[205,0.5],[218,0.9],[230,1.2],[240,1.4],[248,1.5],[258,1.4],[268,1.5],[280,1.3],[292,1.6],[310,1.8],[323,1.7],[333,0.5],[343,-0.3],[355,-1.0],[367,-1.4],[378,-1.1],[390,-0.5],[405,0.2],[418,0.4],[430,0.3],[443,0.1],[455,0.3],[468,0.5],[480,0.8],[493,1.0],[505,1.2],[518,1.0],[530,0.8],[543,0.5],[555,0.4],[568,0.2],[580,0.5],[593,0.2],[605,-0.1],[618,-0.2],[630,-0.3],[643,-0.1],[655,-0.5],[668,-0.3],[680,-0.4],[693,-0.2],[705,-0.2],[718,-0.5],[730,-0.3],[743,-0.2],[755,-0.4],[768,-0.8],[780,-1.2],[793,-1.5],[805,-0.8],[818,-0.3],[830,-0.2],[843,-0.8],[850,-1.2]];

const ct17 = [[-150,-0.3],[-138,-0.4],[-125,-0.2],[-112,0.0],[-100,0.2],[-88,0.4],[-79,0.5],[-66,0.3],[-54,0.1],[-41,-0.1],[-29,-0.2],[-16,0.1],[-4,0.3],[9,0.1],[21,0.0],[33,0.0],[46,-0.2],[59,-0.3],[71,-0.1],[83,0.0],[96,-0.5],[106,-1.5],[116,-2.3],[125,-1.8],[133,-1.0],[142,-1.6],[151,-2.0],[163,-2.5],[176,-2.8],[188,-2.2],[201,-1.5],[211,-1.0],[221,-0.5],[230,0.2],[238,0.7],[248,0.5],[258,0.3],[270,0.8],[283,1.4],[295,2.2],[305,3.0],[316,3.5],[325,2.5],[334,1.0],[345,0.0],[358,-0.4],[366,-0.8],[378,-0.6],[392,0.0],[408,0.0],[420,0.2],[433,0.3],[446,0.4],[458,0.0],[471,-0.2],[483,-0.3],[496,0.3],[508,0.8],[521,0.6],[533,0.4],[546,0.5],[558,0.7],[571,0.6],[583,0.8],[596,0.9],[608,1.0],[621,0.8],[633,0.7],[646,0.6],[658,0.5],[671,0.4],[683,0.3],[696,0.4],[708,0.3],[721,0.2],[733,0.3],[746,0.1],[758,0.0],[771,-0.3],[783,-0.4],[796,-0.6],[808,-0.8],[821,-1.0],[833,-0.9],[846,-0.8],[850,-0.8]];
const nct17 = [[-150,-0.5],[-138,-0.4],[-125,-0.3],[-112,-0.2],[-100,0.0],[-88,0.1],[-79,0.0],[-66,0.2],[-54,0.4],[-41,0.6],[-29,0.8],[-16,0.5],[-4,0.2],[9,0.0],[21,0.0],[33,0.1],[46,0.2],[59,0.3],[71,0.2],[83,0.1],[96,-0.6],[106,-1.3],[116,-2.0],[126,-1.5],[136,-1.3],[146,-1.7],[156,-2.2],[166,-2.6],[176,-2.8],[188,-2.3],[201,-1.6],[211,-1.0],[221,-0.4],[230,0.0],[238,0.3],[248,0.2],[258,0.3],[270,0.7],[283,1.5],[295,2.4],[305,3.2],[316,3.8],[321,4.0],[330,2.8],[341,1.5],[350,1.0],[358,0.8],[370,0.5],[383,0.4],[396,0.3],[408,0.6],[420,0.3],[433,-0.5],[446,-0.2],[458,0.0],[471,0.2],[483,0.0],[496,-0.5],[508,-0.3],[521,-0.1],[533,0.0],[546,0.0],[558,-0.2],[571,-0.3],[583,-0.1],[596,-0.2],[608,-0.3],[621,-0.1],[633,0.0],[646,0.1],[658,0.2],[671,0.1],[683,0.3],[696,0.1],[708,0.0],[721,-0.2],[733,-0.1],[746,-0.3],[758,-0.1],[771,0.0],[783,0.2],[796,0.1],[808,0.0],[821,0.0],[833,-0.2],[846,-0.2],[850,-0.2]];

const ct18 = [[-150,0.3],[-138,0.5],[-125,0.7],[-115,0.9],[-106,1.0],[-95,0.6],[-82,0.4],[-69,0.2],[-56,0.0],[-43,-0.3],[-31,-0.4],[-18,-0.5],[-6,0.0],[6,0.5],[19,0.6],[31,0.8],[44,0.8],[56,0.6],[69,0.4],[81,0.3],[94,0.3],[106,0.5],[119,0.2],[131,-0.3],[144,-0.8],[156,-1.5],[169,-2.0],[181,-2.4],[191,-2.1],[201,-1.5],[210,-0.7],[219,0.0],[229,0.6],[239,1.2],[256,1.3],[269,1.3],[281,1.5],[294,2.2],[306,2.7],[319,2.3],[331,2.0],[344,1.5],[356,1.0],[369,0.6],[381,0.3],[394,0.0],[406,-0.3],[419,-0.5],[431,-0.6],[444,-0.8],[456,-0.9],[469,-1.0],[481,-1.1],[494,-1.2],[506,-1.1],[519,-1.3],[531,-1.4],[544,-1.3],[556,-1.6],[569,-1.4],[581,-1.2],[594,-1.3],[606,-1.0],[619,-0.9],[631,-0.8],[644,-0.4],[656,0.0],[669,0.3],[681,0.1],[694,0.0],[706,-0.2],[719,-0.1],[731,-0.2],[744,-0.3],[756,-0.1],[769,0.0],[781,-0.2],[794,-0.1],[806,-0.2],[819,0.0],[831,-0.1],[844,0.0],[850,0.0]];
const nct18 = [[-150,0.3],[-138,0.6],[-125,0.9],[-115,1.1],[-106,1.2],[-95,1.0],[-82,0.8],[-69,0.8],[-56,0.6],[-43,0.3],[-31,0.4],[-18,0.3],[-6,0.4],[6,0.6],[19,0.8],[31,1.0],[44,1.2],[56,0.9],[69,0.6],[81,0.4],[94,0.3],[106,0.4],[119,0.1],[131,-0.4],[144,-0.9],[156,-1.6],[169,-2.1],[181,-2.5],[191,-2.2],[201,-1.6],[210,-0.8],[219,0.0],[229,0.7],[239,1.2],[256,1.2],[269,1.4],[281,1.6],[294,2.3],[306,2.6],[319,2.2],[331,1.8],[344,1.2],[356,0.8],[369,0.5],[381,0.3],[394,-0.2],[406,-0.4],[419,-0.5],[431,-0.6],[444,-0.7],[456,-0.8],[469,-0.9],[481,-0.8],[494,-0.8],[506,-0.9],[519,-1.0],[531,-1.1],[544,-1.0],[556,-1.0],[569,-1.1],[581,-1.2],[594,-1.2],[606,-1.3],[619,-1.3],[631,-1.1],[644,-0.9],[656,-0.7],[669,-0.5],[681,-0.6],[694,-0.4],[706,-0.3],[719,-0.2],[731,0.0],[744,0.3],[756,0.1],[769,-0.1],[781,-0.3],[794,-0.1],[806,0.2],[819,0.7],[831,0.5],[844,0.3],[850,0.3]];

const ctSeries = [ct1, ct2, ct3, ct4, ct5, ct6, ct7, ct8, ct9, ct10, ct11, ct12, ct13, ct14, ct15, ct16, ct17, ct18];
const nctSeries = [nct1, nct2, nct3, nct4, nct5, nct6, nct7, nct8, nct9, nct10, nct11, nct12, nct13, nct14, nct15, nct16, nct17, nct18];

const FONT = "Liberation Serif";
const COL_LEFT = [52, 319, 587];
const ROW_TOP = [50, 138.6, 227.2, 315.8, 404.4, 493];
const GRID_W = 202;
const GRID_H = 55;
const CT_COLOR = "#0000ff";
const NCT_COLOR = "#008000";

function buildOption() {
  const grid: any[] = [];
  const xAxis: any[] = [];
  const yAxis: any[] = [];
  const series: any[] = [];
  const graphic: any[] = [];
  const n = subjects.length;
  const fmtY = (v: number) => (v < 0 ? "\u2212" + Math.abs(v) : String(v));
  for (let i = 0; i < n; i++) {
    const r = Math.floor(i / 3);
    const c = i % 3;
    grid.push({
      left: COL_LEFT[c], top: ROW_TOP[r], width: GRID_W, height: GRID_H,
      show: true, borderColor: "#000", borderWidth: 1, backgroundColor: "transparent",
    });
    graphic.push({
      type: "text",
      x: COL_LEFT[c] - 33,
      y: ROW_TOP[r] + 24,
      style: {
        text: subjects[i], fill: "#000", fontFamily: FONT, fontWeight: "bold", fontSize: 13,
        textAlign: "center", textVerticalAlign: "middle",
      },
    });
  }
  graphic.push({
    type: "text",
    x: COL_LEFT[1] + GRID_W / 2,
    y: 572,
    style: {
      text: xTitle, fill: "#000", fontFamily: FONT, fontWeight: "bold", fontSize: 12,
      textAlign: "center", textVerticalAlign: "middle",
    },
  });
  for (let i = 0; i < n; i++) {
    xAxis.push({
      type: "value", gridIndex: i, min: timeRange[0], max: timeRange[1], position: "bottom",
      axisLine: { show: false, onZero: false },
      axisTick: { show: true, inside: true, length: 3, lineStyle: { color: "#000" }, customValues: timeTicks },
      axisLabel: { show: true, customValues: timeTicks, color: "#000", fontFamily: FONT, fontWeight: "bold", fontSize: 11, margin: 6, hideOverlap: false },
      splitLine: { show: false },
    });
    yAxis.push({
      type: "value", gridIndex: i, min: ampRange[0], max: ampRange[1], interval: 2, position: "left",
      axisLine: { show: false, onZero: false },
      axisTick: { show: true, inside: true, length: 3, lineStyle: { color: "#000" } },
      axisLabel: { show: true, color: "#000", fontFamily: FONT, fontWeight: "bold", fontSize: 11, margin: 4, formatter: fmtY, showMinLabel: true, showMaxLabel: true, hideOverlap: false },
      splitLine: { show: false },
    });
  }
  for (let i = 0; i < n; i++) {
    xAxis.push({
      type: "value", gridIndex: i, min: timeRange[0], max: timeRange[1], position: "top",
      axisLine: { show: false, onZero: false },
      axisTick: { show: true, inside: true, length: 3, lineStyle: { color: "#000" }, customValues: timeTicks },
      axisLabel: { show: false, customValues: timeTicks },
      splitLine: { show: false },
    });
    yAxis.push({
      type: "value", gridIndex: i, min: ampRange[0], max: ampRange[1], interval: 2, position: "right",
      axisLine: { show: false, onZero: false },
      axisTick: { show: true, inside: true, length: 3, lineStyle: { color: "#000" } },
      axisLabel: { show: false },
      splitLine: { show: false },
    });
  }
  for (let i = 0; i < n; i++) {
    series.push({
      name: "CT", type: "line", xAxisIndex: i, yAxisIndex: i, data: ctSeries[i],
      showSymbol: false, symbol: "none", lineStyle: { color: CT_COLOR, width: 1.3 }, itemStyle: { color: CT_COLOR },
      z: 2,
    });
    series.push({
      name: "NCT", type: "line", xAxisIndex: i, yAxisIndex: i, data: nctSeries[i],
      showSymbol: false, symbol: "none", lineStyle: { color: NCT_COLOR, width: 1.3 }, itemStyle: { color: NCT_COLOR },
      z: 3,
    });
  }
  return {
    animation: false,
    backgroundColor: "#fff",
    textStyle: { fontFamily: FONT },
    legend: {
      data: ["CT", "NCT"], orient: "vertical", left: 710, top: 1,
      icon: "rect", itemWidth: 38, itemHeight: 2, itemGap: 5,
      padding: [8, 5, 6, 8],
      borderColor: "#000", borderWidth: 1, backgroundColor: "#fff",
      textStyle: { color: "#000", fontFamily: FONT, fontSize: 11 },
      selectedMode: false,
    },
    grid, xAxis, yAxis, series, graphic,
  };
}

export default function App() {
  const ref = useRef<HTMLDivElement>(null);
  useEffect(() => {
    if (!ref.current) return;
    const chart = echarts.init(ref.current, null, { renderer: "svg" });
    chart.setOption(buildOption() as any);
    return () => chart.dispose();
  }, []);
  return (
    <div
      ref={ref}
      style={{ position: "absolute", left: 0, top: 0, width: 791, height: 580, background: "#fff" }}
    />
  );
}
